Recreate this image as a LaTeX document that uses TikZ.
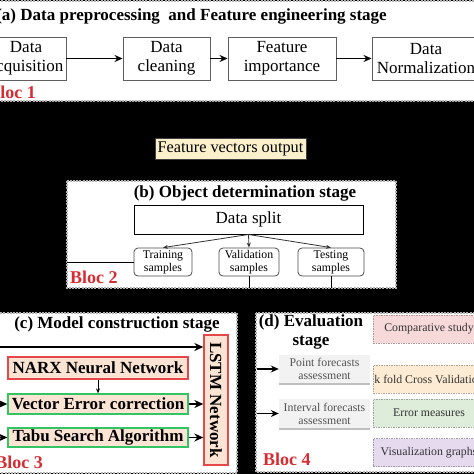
\documentclass[tikz,border=0pt]{standalone}
\usepackage{fontspec}
\setmainfont{Liberation Serif}
\usetikzlibrary{arrows.meta, shadows}

\definecolor{blocred}{HTML}{D62D33}
\definecolor{modelred}{HTML}{E6474B}
\definecolor{modelgreen}{HTML}{33C463}
\definecolor{peach}{HTML}{FBE4D3}
\definecolor{featyellow}{HTML}{FAF0CB}
\definecolor{evalpink}{HTML}{F8D9D9}
\definecolor{evalorange}{HTML}{FDEBD4}
\definecolor{evalgreen}{HTML}{DDEDD9}
\definecolor{evalpurple}{HTML}{E5DAEE}

\begin{document}
\begin{tikzpicture}[x=1pt, y=-1pt,
    txtbig/.style={font=\fontsize{17}{19}\selectfont},
    txtbf/.style={font=\fontsize{17}{19}\selectfont\bfseries},
    txtsmall/.style={font=\fontsize{11.8}{13}\selectfont},
    bloc/.style={fill=white, draw=gray!60, line width=1.2pt, dash pattern=on 2pt off 1.2pt},
    blocname/.style={font=\fontsize{18}{20}\selectfont\bfseries, text=blocred, inner sep=0pt},
    stagetitle/.style={txtbf, inner sep=0pt},
    prepbox/.style={draw=gray!75!black, fill=white, line width=0.9pt, txtbig, align=center, inner sep=0pt, minimum height=43pt},
    samplebox/.style={draw=gray!60!black, rounded corners=4pt, line width=0.8pt, txtsmall, align=center, inner sep=0pt, minimum height=28pt},
    modelbox/.style={fill=peach, line width=1.3pt, txtbf, inner sep=0pt, minimum width=180pt},
    assessbox/.style={fill=gray!10, txtsmall, text=black!68, align=center, inner sep=0pt, minimum width=91pt,
      drop shadow={shadow xshift=0pt, shadow yshift=-1.5pt, fill=gray!50, opacity=1}},
    metricbox/.style={dash pattern=on 1.5pt off 1pt, line width=0.8pt, txtsmall, text=black!80, inner sep=0pt, minimum width=112pt, minimum height=28pt},
    arr/.style={-{Stealth[length=8pt, width=7pt]}, line width=1.3pt},
    bigarr/.style={-{Stealth[length=9pt, width=8pt]}, line width=1.8pt},
    thinarr/.style={-{Stealth[length=5pt, width=4pt]}, line width=0.8pt, draw=gray!40!black}
  ]
  % background
  \fill[black] (0,0) rectangle (474,474);
  \useasboundingbox (0,0) rectangle (474,474);

  % (a) preprocessing
  \draw[bloc] (-5,1) rectangle (480,101);
  \node[stagetitle, anchor=base east] (titlea) at (387,20.5) {(a) Data preprocessing~ and Feature engineering stage};
  \node[prepbox, minimum width=80pt] (acq) at (26,58.5) {Data\\acquisition};
  \node[prepbox, minimum width=87pt] (clean) at (166.5,58.5) {Data\\cleaning};
  \node[prepbox, minimum width=108pt] (feat) at (282,58.5) {Feature\\importance};
  \node[prepbox, minimum width=108pt] (norm) at (426,58.5) {Data\\Normalization};
  \foreach \a/\b in {acq/clean, clean/feat, feat/norm}
    \draw[arr] (\a) -- (\b);
  \node[blocname, anchor=base east] (bloca) at (36,98) {Bloc 1};

  \node[draw=gray!50!black, fill=featyellow, line width=0.6pt, font=\fontsize{16.3}{18}\selectfont,
    inner sep=0pt, minimum width=151pt, minimum height=21pt] (featout) at (230.5,148.5) {Feature vectors output};

  % (b) object determination
  \draw[bloc] (67,181) rectangle (396,288);
  \node[stagetitle, anchor=base] (titleb) at (245,197) {(b) Object determination stage};
  \node[draw, line width=1pt, txtbig, inner sep=0pt, minimum width=229pt, minimum height=29pt] (split) at (248.5,219.5) {Data split};
  \node[samplebox, minimum width=58pt] (train) at (163,262) {Training\\samples};
  \node[samplebox, minimum width=60pt] (valid) at (249,262) {Validation\\samples};
  \node[samplebox, minimum width=66pt] (test) at (331,262) {Testing\\samples};
  \foreach \s in {train, valid, test}
    \draw[thinarr] (split.south) -- (\s.north);
  \coordinate (bleft) at (67,262);
  \coordinate (vdown) at (249,288);
  \coordinate (tdown) at (331,288);
  \draw[line width=1pt] (bleft) -- (train.west);
  \draw[line width=1pt] (valid.south) -- (vdown);
  \draw[line width=1pt] (test.south) -- (tdown);
  \node[blocname, anchor=base west] (blocb) at (70,283) {Bloc 2};

  % (c) model construction
  \draw[bloc] (-5,313) rectangle (237,473);
  \node[stagetitle, anchor=base] (titlec) at (117,328) {(c) Model construction stage};
  \node[modelbox, draw=modelred, rotate=-90, minimum width=130pt, minimum height=24pt] (lstm) at (216,400) {LSTM Network};
  \node[modelbox, draw=modelred, minimum height=22pt] (narx) at (98,368) {NARX Neural Network};
  \node[modelbox, draw=modelgreen, minimum height=20pt] (vec) at (98,404) {Vector Error correction};
  \node[modelbox, draw=modelgreen, minimum height=19pt] (tabu) at (98,437.5) {Tabu Search Algorithm};
  \coordinate (cin) at (-2,347);
  \coordinate (vecin) at (-2,404);
  \coordinate (tabuin) at (-2,437.5);
  \draw[thinarr, draw=black] (narx.south) -- (vec.north);
  \draw[bigarr] (cin) -- (cin -| lstm.south);
  \draw[bigarr] (vecin) -- (vec.west);
  \draw[bigarr] (tabuin) -- (tabu.west);
  \draw[bigarr] (vec.east) -- (vec.east -| lstm.south);
  \draw[bigarr] (tabu.east) -- (tabu.east -| lstm.south);
  \node[blocname, anchor=base east] (blocc) at (43,468) {Bloc 3};

  % (d) evaluation
  \draw[bloc] (256,313) rectangle (480,472);
  \node[stagetitle, align=center] (titled) at (311,332) {(d) Evaluation\\stage};
  \node[assessbox, minimum height=28pt] (point) at (324.5,369) {Point forecasts\\assessment};
  \node[assessbox, minimum height=29pt] (interval) at (324.5,413.5) {Interval forecasts\\assessment};
  \coordinate (pointin) at (257,369);
  \coordinate (intin) at (257,413.5);
  \draw[arr] (pointin) -- (point.west);
  \draw[arr] (intin) -- (interval.west);
  \foreach \n/\y/\c/\t in {cmp/329/evalpink/Comparative study, kfold/379/evalorange/k fold Cross Validation,
      err/413/evalgreen/Error measures, vis/452.5/evalpurple/Visualization graphs}
    \node[metricbox, fill=\c, draw=\c!70!black] (\n) at (429,\y) {\t};
  \node[blocname, anchor=base west] (blocd) at (263,465) {Bloc 4};
\end{tikzpicture}
\end{document}
